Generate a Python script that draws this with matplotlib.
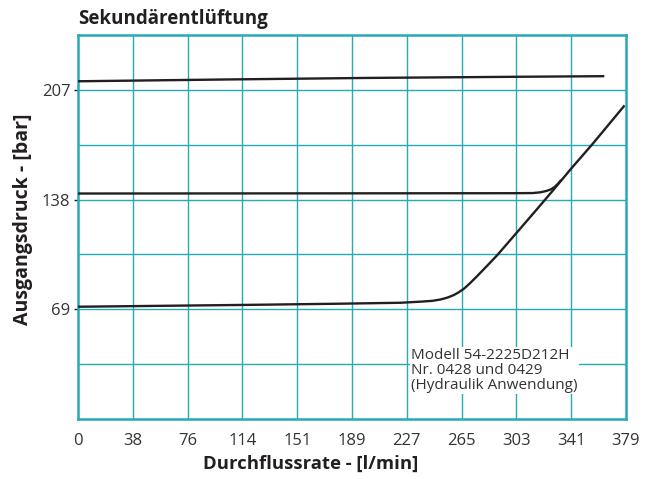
import matplotlib
matplotlib.use("Agg")
import matplotlib.pyplot as plt

plt.rcParams['font.family'] = ['Open Sans', 'DejaVu Sans']

# Data
x_ticks = [0, 38, 76, 114, 151, 189, 227, 265, 303, 341, 379]
x_tick_pos = [0, 37.9, 75.8, 113.7, 151.6, 189.5, 227.4, 265.3, 303.2, 341.1, 379]
y_tick_labels = ["69", "138", "207"]
y_tick_pos = [69, 138, 207]
y_grid = [34.5, 69, 103.5, 138, 172.5, 207]

top_x = [0, 100, 200, 300, 364]
top_y = [212.4, 213.5, 214.5, 215.2, 215.6]

mid_x = [0, 150, 300, 314.7, 320, 323.9, 327, 329.6, 332, 334.2]
mid_y = [141.8, 141.9, 142.0, 142.1, 142.6, 143.4, 144.4, 145.9, 148.0, 150.4]

low_x = [0, 60, 120, 180, 223, 237, 245, 251, 256, 260, 263, 267, 271, 276,
         283, 290, 304, 317, 329, 341, 356, 378]
low_y = [70.6, 71.2, 71.8, 72.5, 73.1, 73.8, 74.3, 75.2, 76.5, 78.0, 79.5, 82.0,
         85.3, 89.8, 96.4, 103.1, 117.8, 131.5, 144.3, 157.4, 173.1, 197.2]

teal = "#26AAB5"
ink = "#231F20"
txt = "#333333"

fig = plt.figure(figsize=(6.49, 4.79), dpi=100)
ax = fig.add_axes([78/649, 1-419/479, 548/649, 384/479])
ax.set_xlim(0, 379)
ax.set_ylim(0, 241.5)

for xv in x_tick_pos[1:-1]:
    ax.axvline(xv, color=teal, lw=1.0, zorder=1)
for yv in y_grid:
    ax.axhline(yv, color=teal, lw=1.0, zorder=1)
for s in ax.spines.values():
    s.set_color(teal)
    s.set_linewidth(1.8)

for xs, ys in ((top_x, top_y), (mid_x, mid_y), (low_x, low_y)):
    ax.plot(xs, ys, color=ink, lw=1.7, zorder=3, solid_capstyle='butt',
            solid_joinstyle='round')

ax.set_xticks(x_tick_pos)
ax.set_xticklabels([str(v) for v in x_ticks], fontsize=12, color=txt)
ax.set_yticks(y_tick_pos)
ax.set_yticklabels(y_tick_labels, fontsize=12, color=txt)
ax.tick_params(axis='x', length=0, pad=10)
ax.tick_params(axis='y', length=3, width=1, color=ink, pad=2.5)

ax.set_xlabel("Durchflussrate - [l/min]", fontsize=13.3, fontweight='bold', color=ink)
ax.xaxis.set_label_coords(0.425, -0.094)
ax.set_ylabel("Ausgangsdruck - [bar]", fontsize=14, fontweight='bold', color=ink)
ax.yaxis.set_label_coords(-0.082, 0.52)

fig.text(78/649, 1-19/479, "Sekundärentlüftung", fontsize=13.5, fontweight='bold',
         color=ink, ha='left', va='center')

ax.text(230.6, 44.5, "Modell 54-2225D212H\nNr. 0428 und 0429\n(Hydraulik Anwendung)",
        fontsize=11, color=txt, ha='left', va='top', linespacing=0.98, zorder=4,
        bbox=dict(facecolor='white', edgecolor='none', pad=1))

fig.savefig("out.png", dpi=100)
